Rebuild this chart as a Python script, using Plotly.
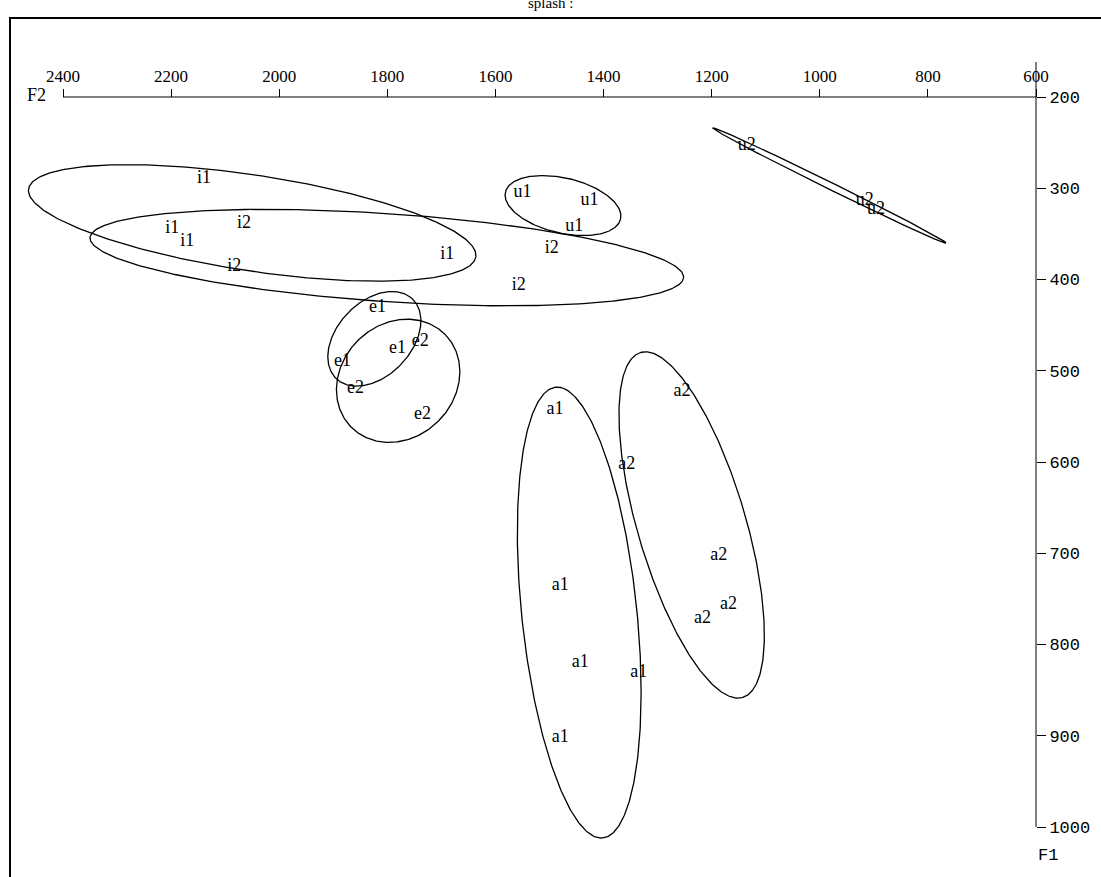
import numpy as np
import plotly.graph_objects as go

# ---- data: vowel tokens (F2, F1) ----
tok_labels = ["i1", "i1", "i1", "i1",
              "i2", "i2", "i2", "i2",
              "u1", "u1", "u1",
              "u2", "u2", "u2",
              "e1", "e1", "e1",
              "e2", "e2", "e2",
              "a1", "a1", "a1", "a1", "a1",
              "a2", "a2", "a2", "a2", "a2"]
tok_f2 = [2139, 2198, 2170, 1689,
          2065, 2083, 1496, 1557,
          1550, 1426, 1454,
          1135, 917, 896,
          1818, 1781, 1883,
          1739, 1859, 1735,
          1490, 1480, 1443, 1335, 1480,
          1255, 1357, 1187, 1169, 1217]
tok_f1 = [289, 344, 358, 373,
          339, 386, 366, 407,
          305, 313, 342,
          253, 313, 323,
          431, 476, 490,
          468, 519, 548,
          543, 735, 820, 831, 902,
          523, 603, 702, 756, 771]

# ---- data: group ellipses (centre and two conjugate semi-axis vectors, in F2/F1 units) ----
ell_names = ["i1", "i2", "u1", "u2", "e1", "e2", "a1", "a2"]
ell_c_f2 = [2050, 1801, 1475, 982, 1824, 1780, 1445, 1237]
ell_c_f1 = [338, 376, 319, 297, 465, 511, 765, 669]
ell_a_f2 = [-413.7, -549.0, -106.5, -215.7, -70.4, -86.4, -43.5, -94.4]
ell_a_f1 = [37.2, 21.9, 14.8, 63.0, -43.7, -51.1, 247.0, 189.0]
ell_b_f2 = [13.3, 5.5, 11.7, 2.9, -49.6, 74.6, -105.9, -95.8]
ell_b_f1 = [51.9, 48.1, 29.4, 3.4, 27.9, -44.1, -6.6, -16.8]

x_ticks = [2400, 2200, 2000, 1800, 1600, 1400, 1200, 1000, 800, 600]
y_ticks = [200, 300, 400, 500, 600, 700, 800, 900, 1000]

# ---- layout geometry (pixels) ----
W, H = 1101, 877
PL, PR, PT, PB = 20, 1041, 62, 863          # plot-area edges
X0PX, X1PX = 63, 1036                        # pixel of F2 = 2400 / 600
Y0PX, Y1PX = 97, 827                         # pixel of F1 = 200 / 1000
sx = (X1PX - X0PX) / (x_ticks[0] - x_ticks[-1])
sy = (Y1PX - Y0PX) / (y_ticks[-1] - y_ticks[0])
x_range = [x_ticks[0] + (X0PX - PL) / sx, x_ticks[-1] - (PR - X1PX) / sx]
y_range = [y_ticks[-1] + (PB - Y1PX) / sy, y_ticks[0] - (Y0PX - PT) / sy]
pw, ph = PR - PL, PB - PT


def px(xp):
    return (xp - PL) / pw


def py(yp):
    return (PB - yp) / ph


fig = go.Figure()

# axis lines
fig.add_trace(go.Scatter(x=[x_ticks[0], x_ticks[-1]], y=[y_ticks[0], y_ticks[0]],
                         mode="lines", line=dict(color="black", width=1),
                         hoverinfo="skip"))
fig.add_trace(go.Scatter(x=[x_ticks[-1], x_ticks[-1]], y=[y_range[1], y_ticks[-1]],
                         mode="lines", line=dict(color="black", width=1),
                         hoverinfo="skip"))

t = np.linspace(0, 2 * np.pi, 361)
for i in range(len(ell_names)):
    xs = ell_c_f2[i] + ell_a_f2[i] * np.cos(t) + ell_b_f2[i] * np.sin(t)
    ys = ell_c_f1[i] + ell_a_f1[i] * np.cos(t) + ell_b_f1[i] * np.sin(t)
    fig.add_trace(go.Scatter(x=xs, y=ys, mode="lines",
                             line=dict(color="black", width=1.3),
                             hoverinfo="skip", name=ell_names[i]))

fig.add_trace(go.Scatter(x=tok_f2, y=tok_f1, mode="text", text=tok_labels,
                         textposition="middle center",
                         textfont=dict(family="Liberation Serif", size=18, color="black"),
                         cliponaxis=False, name="tokens"))

fig.update_layout(
    width=W, height=H,
    margin=dict(l=PL, r=W - PR, t=PT, b=H - PB),
    plot_bgcolor="white", paper_bgcolor="white",
    showlegend=False,
    xaxis=dict(range=x_range, side="top", anchor="free", position=py(Y0PX),
               tickvals=x_ticks, ticktext=[str(v) for v in x_ticks],
               ticks="outside", ticklen=8, tickcolor="black",
               showline=False, showgrid=False, zeroline=False,
               tickfont=dict(family="Liberation Serif", size=17, color="black")),
    yaxis=dict(range=y_range, side="right", anchor="free", position=px(X1PX),
               tickvals=y_ticks, ticktext=[str(v) for v in y_ticks],
               ticks="outside", ticklen=9, tickcolor="black",
               showline=False, showgrid=False, zeroline=False,
               tickfont=dict(family="Liberation Mono", size=17, color="black")),
    shapes=[dict(type="rect", xref="paper", yref="paper",
                 x0=px(10), x1=px(1106), y0=py(882), y1=py(18),
                 line=dict(color="black", width=2), fillcolor="rgba(0,0,0,0)")],
    annotations=[
        dict(text="splash :", xref="paper", yref="paper", x=px(550), y=py(3),
             xanchor="center", yanchor="middle",
             showarrow=False, font=dict(family="Liberation Serif", size=15, color="black")),
        dict(text="F2", xref="paper", yref="paper", x=px(36), y=py(95),
             xanchor="center", yanchor="middle",
             showarrow=False, font=dict(family="Liberation Serif", size=18, color="black")),
        dict(text="F1", xref="paper", yref="paper", x=px(1048), y=py(855),
             xanchor="center", yanchor="middle",
             showarrow=False, font=dict(family="Liberation Mono", size=17, color="black")),
    ],
)

fig.write_html("out.html", config={"displayModeBar": False},
               post_script="document.body.style.margin='0';")
